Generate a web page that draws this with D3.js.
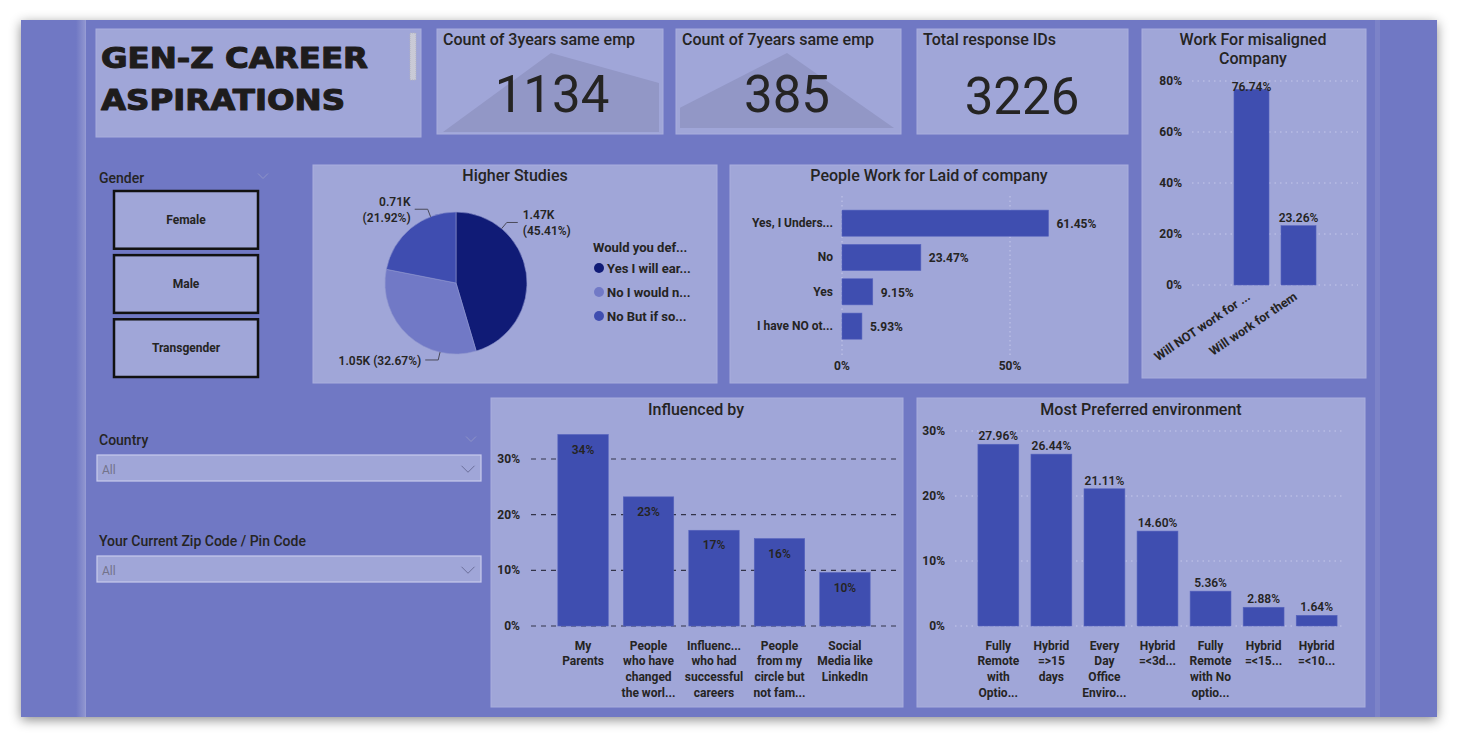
<!DOCTYPE html>
<html>
<head>
<meta charset="utf-8">
<script src="https://cdn.jsdelivr.net/npm/d3@7"></script>
<style>
  body { margin: 0; background: #fff; }
  svg { display: block; font-family: Roboto, "DejaVu Sans", sans-serif; }
</style>
</head>
<body>
<div id="container"></div>
<script>
// ---- data ----
const kpiTitles = ["Count of 3years same emp", "Count of 7years same emp", "Total response IDs"];
const kpiValues = [1134, 385, 3226];
const trend3yr = [0, 100, 62];
const trend7yr = [27, 100, 0];

const genders = ["Female", "Male", "Transgender"];

const studyAnswers = ["Yes I will ear...", "No I would n...", "No But if so..."];
const studyCounts = [1465, 1054, 707];

const laidCats = ["Yes, I Unders...", "No", "Yes", "I have NO ot..."];
const laidPct = [61.45, 23.47, 9.15, 5.93];
const laidTicks = [0, 50];

const misCats = ["Will NOT work for ...", "Will work for them"];
const misPct = [76.74, 23.26];
const misTicks = [0, 20, 40, 60, 80];

const inflCats = ["My|Parents", "People|who have|changed|the worl...", "Influenc...|who had|successful|careers",
                  "People|from my|circle but|not fam...", "Social|Media like|LinkedIn"];
const inflPct = [34.4, 23.2, 17.2, 15.7, 9.6];
const inflTicks = [0, 10, 20, 30];

const envCats = ["Fully|Remote|with|Optio...", "Hybrid|=>15|days", "Every|Day|Office|Enviro...", "Hybrid|=<3d...",
                 "Fully|Remote|with No|optio...", "Hybrid|=<15...", "Hybrid|=<10..."];
const envPct = [27.96, 26.44, 21.11, 14.60, 5.36, 2.88, 1.64];
const envTicks = [0, 10, 20, 30];

// ---- colours ----
const canvasCol = "#7078c4";
const cardCol = "#a0a6d8";
const barCol = "#3f4eb0";
const ink = "#252423";
const pieCols = ["#101b76", "#7179c6", "#3f4db0"];

const width = 1458, height = 738;
const svg = d3.select("#container").append("svg")
  .attr("width", width).attr("height", height);

const defs = svg.append("defs");
const sh = defs.append("filter").attr("id", "shadow")
  .attr("x", -0.05).attr("y", -0.05).attr("width", 1.1).attr("height", 1.12);
sh.append("feDropShadow").attr("dx", 0).attr("dy", 3).attr("stdDeviation", 6)
  .attr("flood-color", "#000").attr("flood-opacity", 0.45);

const grad = defs.append("linearGradient").attr("id", "band");
grad.append("stop").attr("offset", "0%").attr("stop-color", canvasCol);
grad.append("stop").attr("offset", "85%").attr("stop-color", "#8d93cf");
grad.append("stop").attr("offset", "100%").attr("stop-color", "#9a9fd6");

// page
svg.append("rect").attr("x", 21).attr("y", 20).attr("width", 1416).attr("height", 697)
  .attr("fill", canvasCol).attr("filter", "url(#shadow)");
svg.append("rect").attr("x", 76).attr("y", 20).attr("width", 10).attr("height", 697).attr("fill", "url(#band)");
svg.append("rect").attr("x", 1375).attr("y", 20).attr("width", 5).attr("height", 697)
  .attr("fill", "#7c83c8");

function card(x, y, w, h) {
  const g = svg.append("g");
  g.append("rect").attr("x", x).attr("y", y).attr("width", w).attr("height", h)
    .attr("fill", cardCol).attr("stroke", "#a9aedd").attr("stroke-width", 1);
  return g;
}
function title(g, text, x, y, anchor) {
  g.append("text").attr("x", x).attr("y", y).attr("text-anchor", anchor || "middle")
    .attr("font-size", 16).attr("font-weight", 500).attr("fill", ink).text(text);
}
function wrapLabel(g, str, x, y0, lh) {
  const t = g.append("text").attr("text-anchor", "middle").attr("font-size", 12)
    .attr("font-weight", 700).attr("fill", ink);
  str.split("|").forEach((line, i) => {
    t.append("tspan").attr("x", x).attr("y", y0 + i * lh).text(line);
  });
}

// ---- title card ----
const tc = card(96, 29, 325, 108);
[["GEN-Z CAREER", 68, 267], ["ASPIRATIONS", 110, 244]].forEach(([txt, y, len]) => {
  tc.append("text").attr("x", 101).attr("y", y).attr("font-family", "'DejaVu Sans', sans-serif")
    .attr("font-weight", 700).attr("font-size", 29).attr("fill", "#1e1c1c")
    .attr("stroke", "#1e1c1c").attr("stroke-width", 1.1).attr("stroke-linejoin", "round")
    .attr("textLength", len).attr("lengthAdjust", "spacingAndGlyphs").text(txt);
});
tc.append("rect").attr("x", 410).attr("y", 33).attr("width", 6).attr("height", 47)
  .attr("fill", "#c9cad6").attr("stroke", "#b0b1c0").attr("stroke-dasharray", "1,1");

// ---- KPI cards ----
const kpiBoxes = [[437, 29, 226, 105], [676, 29, 225, 105], [917, 29, 211, 105]];
const trends = [trend3yr, trend7yr, null];
const trendFrames = [[443, 659, 132, 53], [680, 894, 128, 53]];
const numCenters = [552, 787, 1022];
kpiBoxes.forEach((b, i) => {
  const g = card(b[0], b[1], b[2], b[3]);
  if (trends[i]) {
    const f = trendFrames[i];
    const sx = d3.scalePoint().domain(d3.range(trends[i].length)).range([f[0], f[1]]);
    const sy = d3.scaleLinear().domain([0, 100]).range([f[2], f[3]]);
    const area = d3.area().x((d, j) => sx(j)).y0(f[2]).y1(d => sy(d));
    g.append("path").attr("d", area(trends[i])).attr("fill", "#9297c6");
  }
  g.append("text").attr("x", b[0] + 6).attr("y", 45).attr("font-size", 16).attr("font-weight", 500)
    .attr("fill", ink).text(kpiTitles[i]);
  g.append("text").attr("x", numCenters[i]).attr("y", i === 2 ? 114 : 112).attr("text-anchor", "middle")
    .attr("font-size", 51).attr("font-weight", 400).attr("fill", ink).text(kpiValues[i]);
});

// ---- gender slicer ----
svg.append("text").attr("x", 99).attr("y", 183).attr("font-size", 14).attr("font-weight", 500)
  .attr("fill", ink).text("Gender");
function chevron(cx, cy, w, col) {
  svg.append("path").attr("d", `M${cx - w / 2},${cy - w / 4}L${cx},${cy + w / 4}L${cx + w / 2},${cy - w / 4}`)
    .attr("fill", "none").attr("stroke", col).attr("stroke-width", 1);
}
chevron(263, 176, 10, "#8f94c8");
const gy = d3.scaleBand().domain(genders).range([191, 377]).paddingInner(0.1);
genders.forEach(gn => {
  svg.append("rect").attr("x", 114).attr("y", gy(gn)).attr("width", 144).attr("height", gy.bandwidth())
    .attr("fill", cardCol).attr("stroke", "#111").attr("stroke-width", 2.5);
  svg.append("text").attr("x", 186).attr("y", gy(gn) + gy.bandwidth() / 2 + 4).attr("text-anchor", "middle")
    .attr("font-size", 12).attr("font-weight", 700).attr("fill", ink).text(gn);
});

// ---- dropdown slicers ----
[["Country", 445, 455], ["Your Current Zip Code / Pin Code", 546, 556]].forEach(([lbl, ly, by], i) => {
  svg.append("text").attr("x", 99).attr("y", ly).attr("font-size", 14).attr("font-weight", 500)
    .attr("fill", ink).text(lbl);
  if (i === 0) chevron(471, 439, 10, "#8f94c8");
  svg.append("rect").attr("x", 97).attr("y", by).attr("width", 384).attr("height", 26)
    .attr("fill", cardCol).attr("stroke", "#c9cced").attr("stroke-width", 1.2);
  svg.append("text").attr("x", 102).attr("y", by + 19).attr("font-size", 12).attr("fill", "#73738a").text("All");
  chevron(468, by + 14, 13, "#6b6f9a");
});

// ---- Higher Studies pie ----
const hs = card(313, 165, 404, 218);
title(hs, "Higher Studies", 515, 181);
const pcx = 456, pcy = 283, pr = 71;
const pie = d3.pie().sort(null).value(d => d)(studyCounts);
const arc = d3.arc().innerRadius(0).outerRadius(pr);
const total = d3.sum(studyCounts);
hs.append("g").attr("transform", `translate(${pcx},${pcy})`)
  .selectAll("path").data(pie).join("path")
  .attr("d", arc).attr("fill", (d, i) => pieCols[i]).attr("stroke", "#8f95cf").attr("stroke-width", 0.6);
const fmtK = v => d3.format(".2f")(v / 1000) + "K";
const fmtP = v => "(" + d3.format(".2%")(v / total) + ")";
// label anchor angles chosen like Power BI's outside labels
const labelAng = [40, 193, 339].map(a => a * Math.PI / 180);
const pt = (a, r) => [pcx + r * Math.sin(a), pcy - r * Math.cos(a)];
pie.forEach((d, i) => {
  const p0 = pt(labelAng[i], pr), p1 = pt(labelAng[i], pr + 8);
  const right = Math.sin(labelAng[i]) > 0;
  const p2 = [p1[0] + (right ? 11 : -13), p1[1]];
  hs.append("polyline").attr("points", [p0, p1, p2].map(p => p.join(",")).join(" "))
    .attr("fill", "none").attr("stroke", "#4a4a5a").attr("stroke-width", 1);
  const lg = hs.append("text").attr("font-size", 12).attr("font-weight", 600).attr("fill", ink)
    .attr("text-anchor", right ? "start" : "end");
  const tx = p2[0] + (right ? 5 : -4);
  if (i === 1) {
    lg.append("tspan").attr("x", tx).attr("y", p2[1] + 5).text(fmtK(d.value) + " " + fmtP(d.value));
  } else {
    lg.append("tspan").attr("x", tx).attr("y", p2[1] - 3).text(fmtK(d.value));
    lg.append("tspan").attr("x", tx).attr("y", p2[1] + 13).text(fmtP(d.value));
  }
});
hs.append("text").attr("x", 593).attr("y", 252).attr("font-size", 13).attr("font-weight", 700)
  .attr("fill", ink).text("Would you def...");
const ly = d3.scalePoint().domain(studyAnswers).range([268, 316]);
studyAnswers.forEach((a, i) => {
  hs.append("circle").attr("cx", 599).attr("cy", ly(a)).attr("r", 5).attr("fill", pieCols[i]);
  hs.append("text").attr("x", 607).attr("y", ly(a) + 4.5).attr("font-size", 13).attr("font-weight", 700)
    .attr("fill", ink).text(a);
});

// ---- People Work for Laid of company ----
const lc = card(730, 165, 398, 218);
title(lc, "People Work for Laid of company", 929, 181);
const lx = d3.scaleLinear().domain([0, 50]).range([842, 1010]);
const lyb = d3.scaleBand().domain(laidCats).range([206, 343.3]).paddingInner(0.24).paddingOuter(0.12);
laidTicks.forEach(t => {
  lc.append("line").attr("x1", lx(t)).attr("x2", lx(t)).attr("y1", 196).attr("y2", 355)
    .attr("stroke", "#c4c7ea").attr("stroke-dasharray", "1.5,3");
  lc.append("text").attr("x", lx(t)).attr("y", 370).attr("text-anchor", "middle").attr("font-size", 12)
    .attr("font-weight", 700).attr("fill", ink).text(t + "%");
});
laidCats.forEach((c, i) => {
  lc.append("rect").attr("x", lx(0)).attr("y", lyb(c)).attr("width", lx(laidPct[i]) - lx(0))
    .attr("height", lyb.bandwidth()).attr("fill", barCol).attr("stroke", "#5563bd").attr("stroke-width", 0.6);
  lc.append("text").attr("x", 833).attr("y", lyb(c) + lyb.bandwidth() / 2 + 4).attr("text-anchor", "end")
    .attr("font-size", 12).attr("font-weight", 700).attr("fill", ink).text(c);
  lc.append("text").attr("x", lx(laidPct[i]) + 8).attr("y", lyb(c) + lyb.bandwidth() / 2 + 5)
    .attr("font-size", 12).attr("font-weight", 700).attr("fill", ink).text(d3.format(".2f")(laidPct[i]) + "%");
});

// ---- Work For misaligned Company ----
const mc = card(1142, 29, 224, 349);
title(mc, "Work For misaligned", 1253, 45);
title(mc, "Company", 1253, 64);
const my = d3.scaleLinear().domain([0, 80]).range([285, 81]);
const mx = d3.scaleBand().domain(misCats).range([1210, 1340]).paddingInner(0.255).paddingOuter(0.51);
misTicks.forEach(t => {
  mc.append("line").attr("x1", 1192).attr("x2", 1358).attr("y1", my(t)).attr("y2", my(t))
    .attr("stroke", "#c4c7ea").attr("stroke-dasharray", "1.5,4");
  mc.append("text").attr("x", 1182).attr("y", my(t) + 4).attr("text-anchor", "end").attr("font-size", 12)
    .attr("font-weight", 700).attr("fill", ink).text(t + "%");
});
misCats.forEach((c, i) => {
  const cx = mx(c) + mx.bandwidth() / 2;
  mc.append("rect").attr("x", mx(c)).attr("y", my(misPct[i])).attr("width", mx.bandwidth())
    .attr("height", my(0) - my(misPct[i])).attr("fill", barCol).attr("stroke", "#5563bd").attr("stroke-width", 0.6);
  mc.append("text").attr("x", cx).attr("y", Math.max(my(misPct[i]) - 4, 91)).attr("text-anchor", "middle")
    .attr("font-size", 12).attr("font-weight", 600).attr("fill", ink).text(d3.format(".2f")(misPct[i]) + "%");
  mc.append("text").attr("transform", `translate(${cx - 3},${295}) rotate(-34)`).attr("text-anchor", "end")
    .attr("dy", "0.35em").attr("font-size", 12.5).attr("font-weight", 700).attr("fill", ink).text(c);
});

// ---- Influenced by ----
const ic = card(491, 398, 412, 309);
title(ic, "Influenced by", 696, 415);
const iy = d3.scaleLinear().domain([0, 30]).range([626, 459]);
const ix = d3.scaleBand().domain(inflCats).range([531, 897]).paddingInner(0.23).paddingOuter(0.41);
inflTicks.forEach(t => {
  ic.append("line").attr("x1", 531).attr("x2", 897).attr("y1", iy(t)).attr("y2", iy(t))
    .attr("stroke", "#33344a").attr("stroke-width", 1.1).attr("stroke-dasharray", "5,5");
  ic.append("text").attr("x", 520).attr("y", iy(t) + 4).attr("text-anchor", "end").attr("font-size", 12)
    .attr("font-weight", 700).attr("fill", ink).text(t + "%");
});
inflCats.forEach((c, i) => {
  const cx = ix(c) + ix.bandwidth() / 2;
  ic.append("rect").attr("x", ix(c)).attr("y", iy(inflPct[i])).attr("width", ix.bandwidth())
    .attr("height", iy(0) - iy(inflPct[i])).attr("fill", barCol).attr("stroke", "#5563bd").attr("stroke-width", 0.6);
  ic.append("text").attr("x", cx).attr("y", iy(inflPct[i]) + 19).attr("text-anchor", "middle")
    .attr("font-size", 12).attr("font-weight", 600).attr("fill", ink).text(d3.format(".0f")(inflPct[i]) + "%");
  wrapLabel(ic, c, cx, 649.5, 15.7);
});

// ---- Most Preferred environment ----
const ec = card(917, 398, 448, 309);
title(ec, "Most Preferred environment", 1141, 415);
const ey = d3.scaleLinear().domain([0, 30]).range([626, 431]);
const ex = d3.scaleBand().domain(envCats).range([962, 1353]).paddingInner(0.23).paddingOuter(0.3);
envTicks.forEach(t => {
  ec.append("line").attr("x1", 955).attr("x2", 1342).attr("y1", ey(t)).attr("y2", ey(t))
    .attr("stroke", "#c4c7ea").attr("stroke-dasharray", "1.5,4");
  ec.append("text").attr("x", 945).attr("y", ey(t) + 4).attr("text-anchor", "end").attr("font-size", 12)
    .attr("font-weight", 700).attr("fill", ink).text(t + "%");
});
envCats.forEach((c, i) => {
  const cx = ex(c) + ex.bandwidth() / 2;
  ec.append("rect").attr("x", ex(c)).attr("y", ey(envPct[i])).attr("width", ex.bandwidth())
    .attr("height", ey(0) - ey(envPct[i])).attr("fill", barCol).attr("stroke", "#5563bd").attr("stroke-width", 0.6);
  ec.append("text").attr("x", cx).attr("y", ey(envPct[i]) - 4).attr("text-anchor", "middle")
    .attr("font-size", 12).attr("font-weight", 600).attr("fill", ink).text(d3.format(".2f")(envPct[i]) + "%");
  wrapLabel(ec, c, cx, 649.5, 15.7);
});
</script>
</body>
</html>
